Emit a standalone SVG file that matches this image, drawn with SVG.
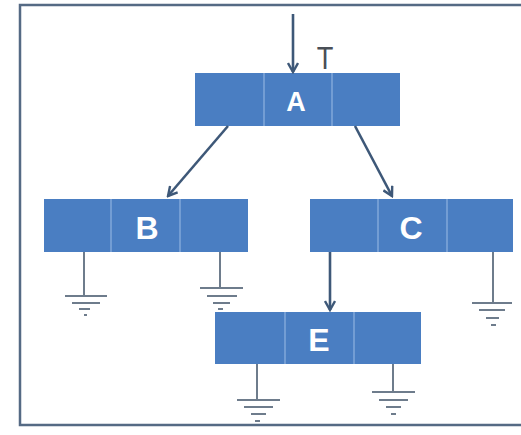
<svg xmlns="http://www.w3.org/2000/svg" width="521" height="435" viewBox="0 0 521 435">
<style>
.box{fill:#4a7ec2}
.div{stroke:#8fb3e0;stroke-width:1.2}
.lbl{fill:#ffffff;font-family:"Liberation Sans",Arial,sans-serif;font-weight:bold;text-anchor:middle}
.conn{stroke:#3e5878;stroke-width:2.6;fill:none}
.gnd{stroke:#6e7c8c;stroke-width:2;fill:none}
</style>
<defs>
<marker id="arr" viewBox="0 0 12 12" refX="10" refY="6" markerWidth="12" markerHeight="12" markerUnits="userSpaceOnUse" orient="auto">
<path d="M1,1 L10,6 L1,11" fill="none" stroke="#3e5878" stroke-width="2.4"/>
</marker>
</defs>
<rect x="0" y="0" width="521" height="435" fill="#ffffff"/>
<path d="M530,5 L20,5 L20,425 L530,425" fill="none" stroke="#556a84" stroke-width="2.5"/>
<g id="A">
<rect class="box" x="195" y="73" width="205" height="53"/>
<line class="div" x1="264" y1="73" x2="264" y2="126"/>
<line class="div" x1="332" y1="73" x2="332" y2="126"/>
<text class="lbl" x="296" y="111" font-size="27">A</text>
</g>
<g id="B">
<rect class="box" x="44" y="199" width="204" height="53"/>
<line class="div" x1="111" y1="199" x2="111" y2="252"/>
<line class="div" x1="180" y1="199" x2="180" y2="252"/>
<text class="lbl" x="147" y="239" font-size="32">B</text>
</g>
<g id="C">
<rect class="box" x="310" y="199" width="203" height="53"/>
<line class="div" x1="378" y1="199" x2="378" y2="252"/>
<line class="div" x1="447" y1="199" x2="447" y2="252"/>
<text class="lbl" x="411" y="239" font-size="32">C</text>
</g>
<g id="E">
<rect class="box" x="215" y="312" width="206" height="52"/>
<line class="div" x1="285" y1="312" x2="285" y2="364"/>
<line class="div" x1="354" y1="312" x2="354" y2="364"/>
<text class="lbl" x="319" y="351" font-size="32">E</text>
</g>
<g id="label-T">
<text x="325" y="69" font-family="Liberation Sans,Arial,sans-serif" font-size="32" fill="#4a4f57" text-anchor="middle" transform="translate(325 0) scale(0.85 1) translate(-325 0)">T</text>
</g>
<g id="connectors">
<line class="conn" x1="293" y1="14" x2="293" y2="72" marker-end="url(#arr)"/>
<line class="conn" x1="228" y1="126" x2="168" y2="196" marker-end="url(#arr)"/>
<line class="conn" x1="355" y1="126" x2="392" y2="196" marker-end="url(#arr)"/>
<line class="conn" x1="330" y1="252" x2="330" y2="310" marker-end="url(#arr)"/>
</g>
<g id="grounds">
<g class="gnd">
<path d="M84,252 V296 M65,296 H107 M72,303 H100 M79,309 H90 M84,315 H87"/>
<path d="M220,252 V288 M200,288 H243 M207,296 H237 M213,303 H230 M218,309 H223"/>
<path d="M493,252 V303 M472,303 H512 M479,310 H505 M486,318 H499 M491,325 H496"/>
<path d="M257,364 V400 M237,400 H280 M244,407 H273 M251,414 H266 M255,421 H260"/>
<path d="M393,364 V392 M372,392 H415 M379,400 H408 M386,407 H401 M391,414 H396"/>
</g>
</g>
</svg>
